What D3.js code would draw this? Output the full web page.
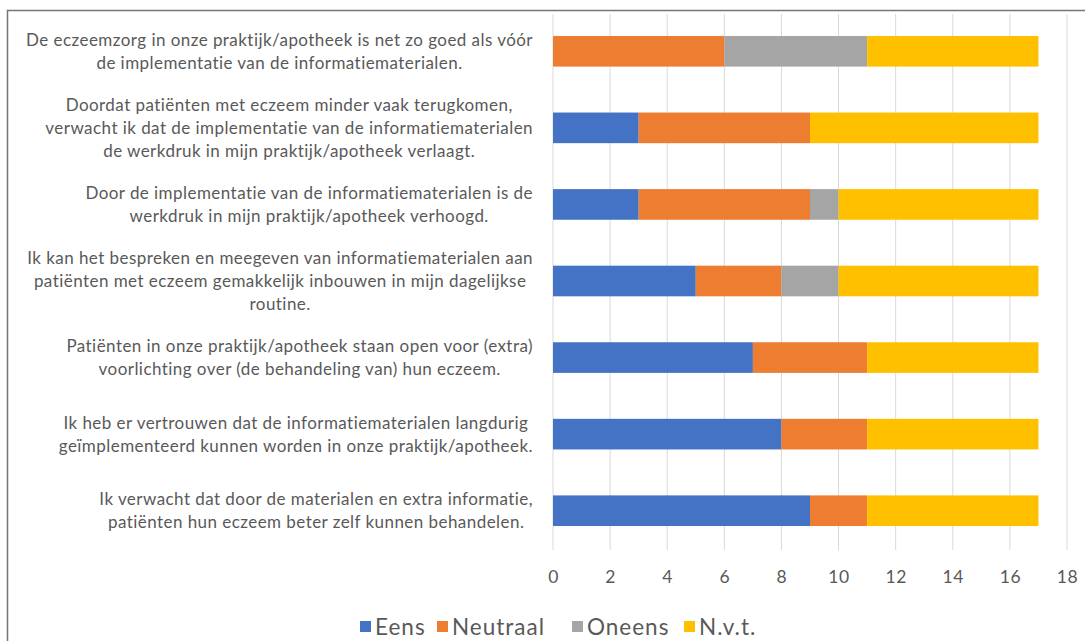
<!DOCTYPE html>
<html>
<head>
<meta charset="utf-8">
<script src="https://cdn.jsdelivr.net/npm/d3@7"></script>
<style>
  body { margin: 0; background: #fff; }
  svg text { font-family: Lato, "Open Sans", sans-serif; fill: #595959; }
</style>
</head>
<body>
<div id="canvas"></div>
<script>
"use strict"

// statements, each split over the lines as they appear on the chart
let statements = [
    ["De eczeemzorg in onze praktijk/apotheek is net zo goed als vóór", "de implementatie van de informatiematerialen."],
    ["Doordat patiënten met eczeem minder vaak terugkomen,", "verwacht ik dat de implementatie van de informatiematerialen", "de werkdruk in mijn praktijk/apotheek verlaagt."],
    ["Door de implementatie van de informatiematerialen is de", "werkdruk in mijn praktijk/apotheek verhoogd."],
    ["Ik kan het bespreken en meegeven van informatiematerialen aan", "patiënten met eczeem gemakkelijk inbouwen in mijn dagelijkse", "routine."],
    ["Patiënten in onze praktijk/apotheek staan open voor (extra)", "voorlichting over (de behandeling van) hun eczeem."],
    ["Ik heb er vertrouwen dat de informatiematerialen langdurig", "geïmplementeerd kunnen worden in onze praktijk/apotheek."],
    ["Ik verwacht dat door de materialen en extra informatie,", "patiënten hun eczeem beter zelf kunnen behandelen."]
];

let seriesNames = ["Eens", "Neutraal", "Oneens", "N.v.t."];
let eens     = [0, 3, 3, 5, 7, 8, 9];
let neutraal = [6, 6, 6, 3, 4, 3, 2];
let oneens   = [5, 0, 1, 2, 0, 0, 0];
let nvt      = [6, 8, 7, 7, 6, 6, 6];
let xTicks = [0, 2, 4, 6, 8, 10, 12, 14, 16, 18];

let colours = ["#4472C4", "#ED7D31", "#A5A5A5", "#FFC000"];

let width = 1085, height = 641;

let drawing = d3.select("#canvas")
    .append("svg")
    .attr("width", width)
    .attr("height", height);

// chart frame (right and bottom edges fall outside the picture)
drawing.append("rect")
    .attr("x", 7.5)
    .attr("y", 10.5)
    .attr("width", 1100)
    .attr("height", 700)
    .attr("fill", "none")
    .attr("stroke", "#767676")
    .attr("stroke-width", 1.5);

let x = d3.scaleLinear().domain([0, 18]).range([553, 1067]);
let y = d3.scaleBand()
    .domain(d3.range(statements.length))
    .range([13, 549])
    .paddingInner(0.6)
    .paddingOuter(0.3);

// gridlines
drawing.append("g")
    .selectAll("line")
    .data(xTicks)
    .join("line")
    .attr("x1", d => x(d))
    .attr("x2", d => x(d))
    .attr("y1", 14)
    .attr("y2", 550)
    .attr("stroke", "#d9d9d9")
    .attr("stroke-width", 1);

// stacked bars
let rows = statements.map((s, i) => ({
    "Eens": eens[i], "Neutraal": neutraal[i], "Oneens": oneens[i], "N.v.t.": nvt[i], idx: i
}));
let stacked = d3.stack().keys(seriesNames)(rows);

drawing.append("g")
    .selectAll("g")
    .data(stacked)
    .join("g")
    .attr("fill", (d, i) => colours[i])
    .selectAll("rect")
    .data(d => d)
    .join("rect")
    .attr("x", d => x(d[0]))
    .attr("width", d => x(d[1]) - x(d[0]))
    .attr("y", d => y(d.data.idx))
    .attr("height", y.bandwidth());

// x axis tick labels
let xAxis = d3.axisBottom(x).tickValues(xTicks).tickSize(0).tickPadding(0);
let axisG = drawing.append("g")
    .attr("transform", "translate(0,570)")
    .call(xAxis);
axisG.select(".domain").remove();
axisG.selectAll("text")
    .attr("dy", "0.35em")
    .attr("y", 7)
    .style("font-size", "17.5px")
    .style("letter-spacing", "0.6px")
    .style("fill", "#595959");

// category labels: lines centred in a block whose right edge sits at x = 533
let labelRight = 533;
let lineGap = 23;
statements.forEach((lines, i) => {
    let cy = y(i) + y.bandwidth() / 2;
    let g = drawing.append("g");
    let texts = g.selectAll("text")
        .data(lines)
        .join("text")
        .attr("y", (d, j) => cy + (j - (lines.length - 1) / 2) * lineGap)
        .attr("dy", "0.35em")
        .attr("text-anchor", "middle")
        .style("font-size", "17px")
        .style("letter-spacing", "0.45px")
        .text(d => d);
    let maxW = d3.max(texts.nodes(), n => n.getComputedTextLength());
    texts.attr("x", labelRight - maxW / 2);
});

// legend
let legend = drawing.append("g").attr("transform", "translate(0,627)");
let legendX = [360, 437, 572, 684];
seriesNames.forEach((name, i) => {
    legend.append("rect")
        .attr("x", legendX[i])
        .attr("y", -6)
        .attr("width", 11)
        .attr("height", 11)
        .attr("fill", colours[i]);
    legend.append("text")
        .attr("x", legendX[i] + 15)
        .attr("y", 0)
        .attr("dy", "0.35em")
        .style("font-size", "22.5px")
        .style("letter-spacing", "1px")
        .text(name);
});
</script>
</body>
</html>
